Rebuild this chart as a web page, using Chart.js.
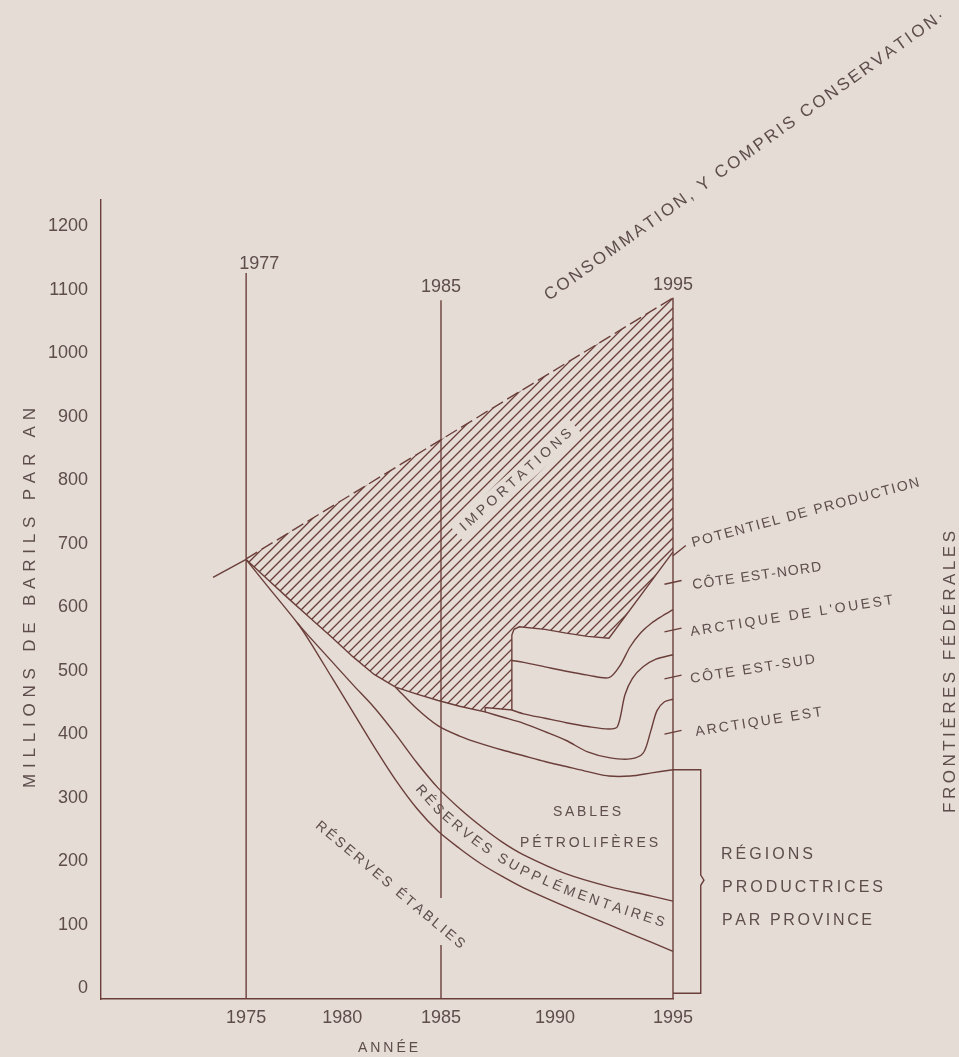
<!DOCTYPE html>
<html lang="fr">
<head>
<meta charset="UTF-8">
<title>Offre et demande de pétrole 1975-1995</title>
<script src="https://cdn.jsdelivr.net/npm/chart.js"></script>
<style>
  body { margin: 0; background: #e4dcd5; }
  #wrap { width: 959px; height: 1057px; }
</style>
</head>
<body>
<div id="wrap"><canvas id="chart" width="959" height="1057"></canvas></div>
<script>
const lineColor = '#6b3e3a';
const textColor = '#5e4d4b';
const bgColor = '#e4dcd5';

// axes (the hand-drawn year axis is not evenly spaced: xTickAt is where each label sits)
const yTicks = [0, 100, 200, 300, 400, 500, 600, 700, 800, 900, 1000, 1100, 1200];
const xTickLabels = ['1975', '1980', '1985', '1990', '1995'];
const xTickAt = [1975, 1979.5, 1984.13, 1989.47, 1995];

// millions de barils par an
const histYears = [1973.45, 1975];
const histValues = [647, 675];

const consoYears = [1975, 1995];
const consoValues = [676, 1087];

const potYears = [1975, 1976, 1977, 1978, 1979, 1980, 1981, 1982, 1983, 1984, 1985, 1986.2, 1986.2, 1987.45, 1987.45, 1987.55, 1987.8, 1989, 1990, 1991, 1992, 1995];
const potValues = [675, 644, 613, 583, 553, 522, 494, 474, 463, 453, 444, 435, 442, 438, 556, 565, 569, 565, 559, 554, 551, 687];

const aoYears = [1987.45, 1988, 1989, 1990, 1991, 1992, 1992.5, 1993, 1993.5, 1994, 1994.5, 1995];
const aoValues = [516, 513, 506, 499, 493, 489, 507, 538, 560, 575, 586, 596];

const csYears = [1987.45, 1988, 1989, 1990, 1991, 1992, 1992.4, 1992.75, 1993.1, 1993.6, 1994.2, 1995];
const csValues = [438, 432, 425, 418, 412, 408, 412, 462, 488, 506, 518, 525];

const aeYears = [1986.2, 1987, 1988, 1989, 1990, 1991, 1992, 1993, 1993.6, 1993.95, 1994.25, 1994.6, 1995];
const aeValues = [435, 427, 417, 404, 390, 372, 363, 361, 370, 404, 437, 451, 455];

const sablesYears = [1982, 1983, 1984, 1985, 1986, 1987, 1988, 1989, 1990, 1991, 1992, 1993, 1994, 1995];
const sablesValues = [474, 440, 413, 397, 385, 375, 366, 357, 349, 341, 334, 334, 339, 344];

const suppYears = [1977.4, 1978, 1979, 1980, 1981, 1982, 1983, 1984, 1985, 1986, 1987, 1988, 1990, 1992, 1994, 1995];
const suppValues = [575, 552, 515, 478, 442, 400, 355, 315, 283, 255, 230, 210, 180, 160, 145, 137];

const etabYears = [1975, 1976, 1977.4, 1978, 1979, 1980, 1981, 1982, 1983, 1984, 1985, 1986, 1987, 1988, 1990, 1992, 1994, 1995];
const etabValues = [675, 633, 575, 545, 490, 435, 380, 328, 283, 247, 220, 196, 176, 158, 128, 100, 72, 58];

// repères verticaux : étiquette, position sur l'axe, haut du trait
const markLabels = ['1977', '1985', '1995'];
const markAt = [1975, 1984.13, 1995];
const markTops = [1126, 1083, 1087];
const gap1985 = [68, 142];
const axisBottom = -17;

// accolade des régions productrices
const bracketYears = [1995, 1996.3, 1996.3, 1996.45, 1996.3, 1996.3, 1995];
const bracketValues = [344, 344, 178, 170, 162, -8, -8];

// petits traits des frontières fédérales
const frontierTickValues = [639, 564, 490, 403];
const potPointerYears = [1995, 1995.6];
const potPointerValues = [681, 697];

function pts(xs, ys) { return xs.map((x, i) => ({ x: x, y: ys[i] })); }

function curve(label, xs, ys, extra) {
    return Object.assign({
        label: label,
        data: pts(xs, ys),
        borderColor: lineColor,
        borderWidth: 1.4,
        pointRadius: 0,
        fill: false,
        tension: 0.3,
        clip: false
    }, extra || {});
}

const datasets = [
    curve('hist', histYears, histValues, { tension: 0 }),
    curve('conso', consoYears, consoValues, { tension: 0, borderDash: [13, 5] }),
    curve('pot', potYears, potValues, { tension: 0 }),
    curve('ao', aoYears, aoValues),
    curve('cs', csYears, csValues),
    curve('ae', aeYears, aeValues),
    curve('sables', sablesYears, sablesValues),
    curve('supp', suppYears, suppValues),
    curve('etab', etabYears, etabValues),
    curve('bracket', bracketYears, bracketValues, { tension: 0 }),
    curve('pointer', potPointerYears, potPointerValues, { tension: 0 })
];

markAt.forEach((at, i) => {
    if (markLabels[i] === '1985') {
        datasets.push(curve('mark' + i + 'a', [at, at], [axisBottom, gap1985[0]], { tension: 0 }));
        datasets.push(curve('mark' + i + 'b', [at, at], [gap1985[1], markTops[i]], { tension: 0 }));
    } else {
        datasets.push(curve('mark' + i, [at, at], [axisBottom, markTops[i]], { tension: 0 }));
    }
});

frontierTickValues.forEach((v, i) => {
    datasets.push(curve('ftick' + i, [1994.6, 1995.4], [v - 3, v + 3], { tension: 0 }));
});

function spaced(ctx, str, x, y, deg, size, len, align, baseline) {
    ctx.save();
    ctx.font = size + 'px "Liberation Sans", Arial, sans-serif';
    ctx.fillStyle = textColor;
    ctx.textBaseline = baseline || 'alphabetic';
    ctx.textAlign = 'left';
    const ch = Array.from(str);
    const w = ch.map(c => ctx.measureText(c).width);
    const raw = w.reduce((a, b) => a + b, 0);
    const gap = len ? (len - raw) / (ch.length - 1) : 0;
    const total = raw + gap * (ch.length - 1);
    ctx.translate(x, y);
    ctx.rotate(deg * Math.PI / 180);
    let cx = align === 'center' ? -total / 2 : 0;
    ch.forEach((c, i) => { ctx.fillText(c, cx, 0); cx += w[i] + gap; });
    ctx.restore();
    return total;
}

function yOn(elems, px) {
    for (let i = 0; i < elems.length - 1; i++) {
        const a = elems[i], b = elems[i + 1];
        if (b.x > a.x && px >= a.x && px <= b.x) {
            return a.y + (px - a.x) / (b.x - a.x) * (b.y - a.y);
        }
    }
    return null;
}

function metaOf(chart, label) {
    const i = chart.data.datasets.findIndex(d => d.label === label);
    return chart.getDatasetMeta(i).data;
}

// texte le long de la bande entre deux courbes
function alongBand(ctx, str, top, bottom, x0, x1, size) {
    const path = [];
    for (let px = x0; px <= x1; px += 1) {
        const a = yOn(top, px), b = yOn(bottom, px);
        if (a !== null && b !== null) path.push({ x: px, y: (a + b) / 2 });
    }
    const cum = [0];
    for (let i = 1; i < path.length; i++) {
        cum.push(cum[i - 1] + Math.hypot(path[i].x - path[i - 1].x, path[i].y - path[i - 1].y));
    }
    const L = cum[cum.length - 1];
    ctx.save();
    ctx.font = size + 'px "Liberation Sans", Arial, sans-serif';
    ctx.fillStyle = textColor;
    ctx.textAlign = 'center';
    ctx.textBaseline = 'middle';
    const ch = Array.from(str);
    const w = ch.map(c => ctx.measureText(c).width);
    const raw = w.reduce((a, b) => a + b, 0);
    const gap = (L - raw) / (ch.length - 1);
    let s = 0;
    ch.forEach((c, i) => {
        const mid = s + w[i] / 2;
        let k = cum.findIndex(v => v >= mid);
        if (k < 1) k = 1;
        const p0 = path[k - 1], p1 = path[k];
        const t = (mid - cum[k - 1]) / ((cum[k] - cum[k - 1]) || 1);
        const x = p0.x + t * (p1.x - p0.x), y = p0.y + t * (p1.y - p0.y);
        const ang = Math.atan2(p1.y - p0.y, p1.x - p0.x);
        ctx.save();
        ctx.translate(x, y);
        ctx.rotate(ang);
        ctx.fillText(c, 0, 0);
        ctx.restore();
        s += w[i] + gap;
    });
    ctx.restore();
}

const decor = {
    id: 'decor',
    beforeDatasetsDraw(chart) {
        const ctx = chart.ctx;
        const c = metaOf(chart, 'conso');
        const p = metaOf(chart, 'pot');
        const area = chart.chartArea;
        // hachures des importations
        ctx.save();
        ctx.beginPath();
        c.forEach((e, i) => i ? ctx.lineTo(e.x, e.y) : ctx.moveTo(e.x, e.y));
        for (let i = p.length - 1; i >= 0; i--) ctx.lineTo(p[i].x, p[i].y);
        ctx.closePath();
        ctx.clip();
        ctx.strokeStyle = lineColor;
        ctx.lineWidth = 1.3;
        ctx.beginPath();
        const H = area.bottom - area.top;
        for (let x0 = area.left - H; x0 < area.right + 12; x0 += 10) {
            ctx.moveTo(x0, area.bottom);
            ctx.lineTo(x0 + H, area.top);
        }
        ctx.stroke();
        ctx.restore();

        // fond sous le mot IMPORTATIONS
        ctx.save();
        ctx.translate(516, 480);
        ctx.rotate(-42 * Math.PI / 180);
        ctx.fillStyle = bgColor;
        ctx.fillRect(-80, -10, 160, 20);
        ctx.restore();
    },
    afterDraw(chart) {
        const ctx = chart.ctx;
        const xs = chart.scales.x;

        spaced(ctx, markLabels[0], xs.getPixelForValue(markAt[0]) - 7, 269, 0, 18, 0);
        spaced(ctx, markLabels[1], xs.getPixelForValue(markAt[1]), 292, 0, 18, 0, 'center');
        spaced(ctx, markLabels[2], xs.getPixelForValue(markAt[2]), 290, 0, 18, 0, 'center');

        spaced(ctx, 'CONSOMMATION, Y COMPRIS CONSERVATION·', 549, 301, -35.5, 17, 487);
        spaced(ctx, 'IMPORTATIONS', 516, 480, -42, 14, 145, 'center', 'middle');

        spaced(ctx, 'POTENTIEL DE PRODUCTION', 693, 547, -15, 14, 235);
        spaced(ctx, 'CÔTE EST-NORD', 693, 589, -8, 14, 130);
        spaced(ctx, "ARCTIQUE DE L'OUEST", 691, 636, -9, 14, 205);
        spaced(ctx, 'CÔTE EST-SUD', 691, 683, -9, 14, 126);
        spaced(ctx, 'ARCTIQUE EST', 696, 736, -9, 14, 128);

        spaced(ctx, 'SABLES', 587, 812, 0, 14, 68, 'center', 'middle');
        spaced(ctx, 'PÉTROLIFÈRES', 589, 843, 0, 14, 138, 'center', 'middle');

        spaced(ctx, 'RÉGIONS', 721, 859, 0, 16, 92);
        spaced(ctx, 'PRODUCTRICES', 722, 892, 0, 16, 161);
        spaced(ctx, 'PAR PROVINCE', 722, 925, 0, 16, 150);

        spaced(ctx, 'RÉSERVES ÉTABLIES', 390, 885, 40, 14, 190, 'center', 'middle');
        alongBand(ctx, 'RÉSERVES SUPPLÉMENTAIRES', metaOf(chart, 'supp'), metaOf(chart, 'etab'), 418, 664, 14);

        spaced(ctx, 'MILLIONS DE BARILS PAR AN', 30, 598, -90, 17, 380, 'center', 'middle');
        spaced(ctx, 'FRONTIÈRES FÉDÉRALES', 950, 672, -90, 17, 282, 'center', 'middle');
        spaced(ctx, 'ANNÉE', 388, 1048, 0, 14, 60, 'center', 'middle');
    }
};

Chart.defaults.font.family = '"Liberation Sans", Arial, sans-serif';

new Chart(document.getElementById('chart'), {
    type: 'line',
    data: { datasets: datasets },
    options: {
        responsive: false,
        animation: false,
        layout: { padding: { left: 0, right: 286, top: 200, bottom: 0 } },
        plugins: { legend: { display: false }, tooltip: { enabled: false } },
        scales: {
            x: {
                type: 'linear',
                min: 1968.2,
                max: 1995,
                afterBuildTicks: s => { s.ticks = xTickAt.map(v => ({ value: v })); },
                afterFit: s => { s.height = 58; },
                grid: { display: false, drawTicks: false },
                border: { display: true, color: lineColor, width: 1.4 },
                ticks: { color: textColor, font: { size: 18 }, padding: 8, maxRotation: 0, autoSkip: false,
                         callback: (v, i) => xTickLabels[i] }
            },
            y: {
                type: 'linear',
                min: axisBottom,
                max: 1241,
                afterBuildTicks: s => { s.ticks = yTicks.map(v => ({ value: v })); },
                afterFit: s => { s.width = 101; },
                grid: { display: false, drawTicks: false },
                border: { display: true, color: lineColor, width: 1.4 },
                ticks: { color: textColor, font: { size: 18 }, padding: 13, autoSkip: false, callback: v => String(v) }
            }
        }
    },
    plugins: [decor]
});
</script>
</body>
</html>
